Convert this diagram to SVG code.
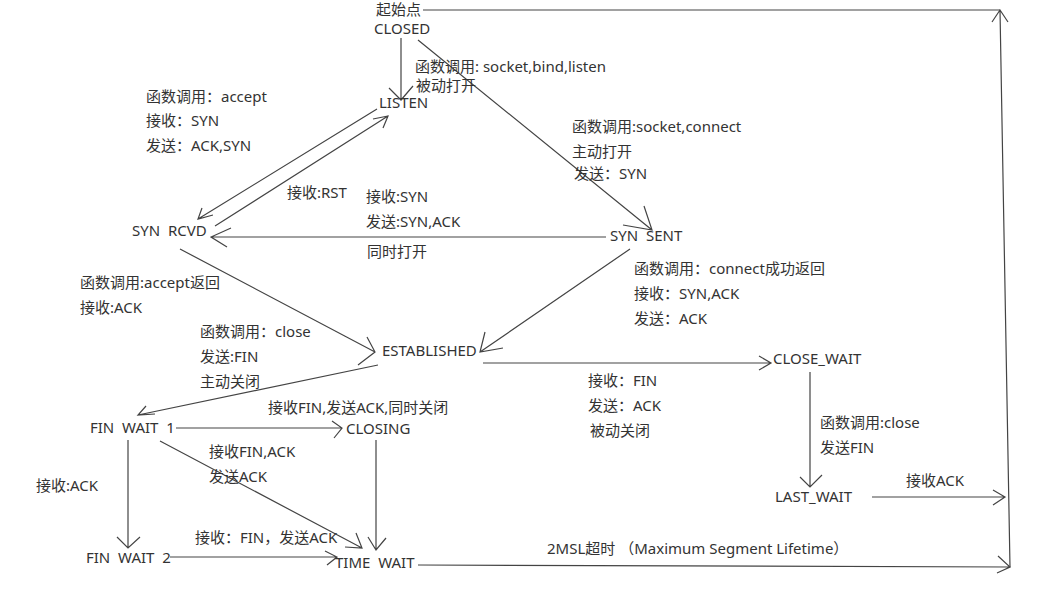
<svg xmlns="http://www.w3.org/2000/svg" width="1050" height="594" viewBox="0 0 1050 594">
<style>
text{font-family:"Noto Sans","Noto Sans CJK SC",sans-serif;font-size:15px;fill:#333;white-space:pre}
.ln{stroke:#444;stroke-width:1.2;fill:none}
</style>
<rect width="1050" height="594" fill="#fff"/>
<g id="connectors" class="ln">
<path d="M423 10H1000"/>
<path d="M401 38V100M389 88L401 100L413 86"/>
<path d="M418 40L652 230M623 225L652 230L644 206"/>
<path d="M377 109L198 219M202 208L198 219L213 215"/>
<path d="M215 226L388 116M373 119L388 116L383 128"/>
<path d="M606 237H211M231 228L211 237L227 247"/>
<path d="M180 249L375 352M367 337L375 352L358 365"/>
<path d="M630 249L480 352M485 332L480 352L503 348"/>
<path d="M378 365L138 415M146 406L138 415L155 414"/>
<path d="M483 363H771M759 356L771 363L759 370"/>
<path d="M176 428H342M332 421L342 428L334 438"/>
<path d="M376 440V550M368 537L376 550L386 538"/>
<path d="M160 441L362 548M356 533L362 548L345 547"/>
<path d="M128 440V548M117 537L128 548L140 537"/>
<path d="M170 557H337M325 551L337 557L327 565"/>
<path d="M418 565L1010 567M998 556L1010 567L997 573"/>
<path d="M810 372V487M800 477L810 487L822 475"/>
<path d="M872 497H1005M993 490L1005 497L993 505"/>
<path d="M1010 567L1000 10M992 22L1000 10L1008 22"/>
</g>
<g id="start"><text x="376" y="15">起始点</text></g>
<g id="closed"><text x="374" y="34">CLOSED</text></g>
<g id="listen"><text x="379" y="108">LISTEN</text></g>
<g id="syn_rcvd"><text x="132" y="236">SYN  RCVD</text></g>
<g id="syn_sent"><text x="610" y="241">SYN  SENT</text></g>
<g id="established"><text x="382" y="356">ESTABLISHED</text></g>
<g id="close_wait"><text x="773" y="364">CLOSE_WAIT</text></g>
<g id="fin_wait1"><text x="90" y="433">FIN  WAIT  1</text></g>
<g id="closing"><text x="346" y="434">CLOSING</text></g>
<g id="last_wait"><text x="775" y="502">LAST_WAIT</text></g>
<g id="fin_wait2"><text x="86" y="563">FIN  WAIT  2</text></g>
<g id="time_wait"><text x="335" y="568">TIME  WAIT</text></g>
<g id="labels">
<text x="415" y="72">函数调用: socket,bind,listen</text>
<text x="416" y="91">被动打开</text>
<text x="146" y="102">函数调用：accept</text>
<text x="146" y="126">接收：SYN</text>
<text x="146" y="151">发送：ACK,SYN</text>
<text x="572" y="132">函数调用:socket,connect</text>
<text x="572" y="157">主动打开</text>
<text x="574" y="179">发送：SYN</text>
<text x="287" y="198">接收:RST</text>
<text x="366" y="202">接收:SYN</text>
<text x="366" y="227">发送:SYN,ACK</text>
<text x="367" y="257">同时打开</text>
<text x="80" y="288">函数调用:accept返回</text>
<text x="80" y="313">接收:ACK</text>
<text x="200" y="337">函数调用：close</text>
<text x="200" y="362">发送:FIN</text>
<text x="200" y="387">主动关闭</text>
<text x="634" y="274">函数调用：connect成功返回</text>
<text x="634" y="299">接收：SYN,ACK</text>
<text x="634" y="324">发送：ACK</text>
<text x="588" y="386">接收：FIN</text>
<text x="588" y="411">发送：ACK</text>
<text x="590" y="436">被动关闭</text>
<text x="268" y="413">接收FIN,发送ACK,同时关闭</text>
<text x="209" y="457">接收FIN,ACK</text>
<text x="209" y="482">发送ACK</text>
<text x="820" y="428">函数调用:close</text>
<text x="820" y="453">发送FIN</text>
<text x="36" y="491">接收:ACK</text>
<text x="906" y="486">接收ACK</text>
<text x="195" y="543">接收：FIN，发送ACK</text>
<text x="547" y="554">2MSL超时 （Maximum Segment Lifetime）</text>
</g>
</svg>
